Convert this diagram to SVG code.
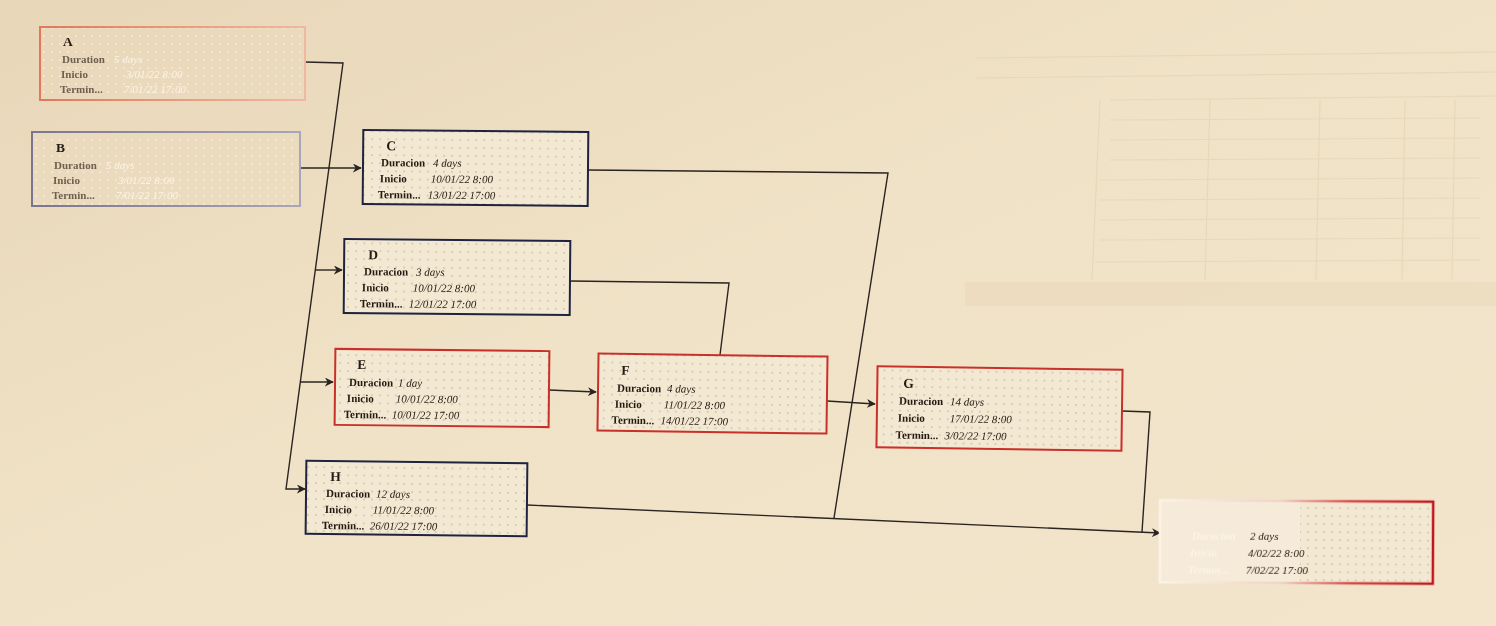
<svg xmlns="http://www.w3.org/2000/svg" width="1496" height="626" viewBox="0 0 1496 626">
<defs>
<linearGradient id="bg" x1="0" y1="0" x2="1" y2="1">
<stop offset="0" stop-color="#e8d6b8"/>
<stop offset="0.45" stop-color="#f0e2c6"/>
<stop offset="1" stop-color="#f2e5cc"/>
</linearGradient>
<linearGradient id="iBorder" x1="0" y1="0" x2="1" y2="0">
<stop offset="0" stop-color="#fbf3e6"/>
<stop offset="0.45" stop-color="#f0d2c8"/>
<stop offset="0.7" stop-color="#d84a4a"/>
<stop offset="1" stop-color="#c2141f"/>
</linearGradient>
<linearGradient id="aBorder" x1="0" y1="0" x2="1" y2="0">
<stop offset="0" stop-color="#e0785a"/>
<stop offset="1" stop-color="#f0b8a0"/>
</linearGradient>
<linearGradient id="bBorder" x1="0" y1="0" x2="1" y2="0">
<stop offset="0" stop-color="#7a7690"/>
<stop offset="1" stop-color="#a8a6b8"/>
</linearGradient>
<pattern id="dots" width="8" height="8" patternUnits="userSpaceOnUse">
<rect width="8" height="8" fill="#f3e8d2"/>
<circle cx="4" cy="4" r="0.7" fill="#a99d8c"/>
</pattern>
<pattern id="dotsLight" width="8" height="8" patternUnits="userSpaceOnUse">
<circle cx="4" cy="4" r="0.8" fill="#fbf6ec"/>
</pattern>
<marker id="arr" viewBox="0 0 10 10" refX="9" refY="5" markerWidth="9" markerHeight="9" markerUnits="userSpaceOnUse" orient="auto">
<path d="M0,0 L10,5 L0,10 L3,5 z" fill="#2a2420"/>
</marker>
</defs>
<style>
.node{fill:url(#dots)}
.dark{fill:none;stroke:#1f2340;stroke-width:2}
.red{fill:none;stroke:#c9302a;stroke-width:2}
.ttl{font-family:"Liberation Serif",serif;font-weight:bold;font-size:13.5px;fill:#241a12}
.lbl{font-family:"Liberation Serif",serif;font-weight:bold;font-size:11px;fill:#241a12}
.val{font-family:"Liberation Serif",serif;font-style:italic;font-size:11px;fill:#241a12}
.fadeL{font-family:"Liberation Serif",serif;font-weight:bold;font-size:11px;fill:#6e5f50}
.fadeV{font-family:"Liberation Serif",serif;font-style:italic;font-size:11px;fill:#fbf4e6}
.wire{fill:none;stroke:#2a2420;stroke-width:1.4}
.ghost{fill:none;stroke:#dccbac;stroke-width:1.2}
</style>
<rect width="1496" height="626" fill="url(#bg)"/>
<g id="showthrough" opacity="0.45">
<line class="ghost" x1="975" y1="58" x2="1496" y2="52"/>
<line class="ghost" x1="975" y1="78" x2="1496" y2="72"/>
<line class="ghost" x1="1110" y1="100" x2="1496" y2="96"/>
<line class="ghost" x1="1110" y1="120" x2="1480" y2="118"/>
<line class="ghost" x1="1110" y1="140" x2="1480" y2="138"/>
<line class="ghost" x1="1110" y1="160" x2="1480" y2="158"/>
<line class="ghost" x1="1100" y1="180" x2="1480" y2="178"/>
<line class="ghost" x1="1100" y1="200" x2="1480" y2="198"/>
<line class="ghost" x1="1100" y1="220" x2="1480" y2="218"/>
<line class="ghost" x1="1100" y1="240" x2="1480" y2="238"/>
<line class="ghost" x1="1095" y1="262" x2="1480" y2="260"/>
<rect x="965" y="282" width="531" height="24" fill="#e2cfae" opacity="0.6"/>
<line class="ghost" x1="1100" y1="100" x2="1092" y2="280"/>
<line class="ghost" x1="1210" y1="100" x2="1205" y2="280"/>
<line class="ghost" x1="1320" y1="100" x2="1316" y2="280"/>
<line class="ghost" x1="1405" y1="100" x2="1402" y2="280"/>
<line class="ghost" x1="1455" y1="100" x2="1452" y2="280"/>
</g>
<g id="connectors">
<path class="wire" d="M305,62 L343,63 L286,489 L305,489" marker-end="url(#arr)"/>
<path class="wire" d="M315,270 L342,270" marker-end="url(#arr)"/>
<path class="wire" d="M300,382 L333,382" marker-end="url(#arr)"/>
<path class="wire" d="M300,168 L361,168" marker-end="url(#arr)"/>
<path class="wire" d="M588,170 L888,173 L834,518"/>
<path class="wire" d="M527,505 L1160,533" marker-end="url(#arr)"/>
<path class="wire" d="M570,281 L729,283 L720,355"/>
<path class="wire" d="M549,390 L596,392" marker-end="url(#arr)"/>
<path class="wire" d="M827,401 L875,404" marker-end="url(#arr)"/>
<path class="wire" d="M1122,411 L1150,412 L1142,532"/>
</g>
<g id="node-A">
<rect x="40" y="27" width="265" height="73" fill="url(#dotsLight)" stroke="url(#aBorder)" stroke-width="2"/>
<text class="ttl" x="63" y="46">A</text>
<text class="fadeL" x="62" y="63">Duration</text><text class="fadeV" x="114" y="63">5 days</text>
<text class="fadeL" x="61" y="78">Inicio</text><text class="fadeV" x="126" y="78">3/01/22 8:00</text>
<text class="fadeL" x="60" y="93">Termin...</text><text class="fadeV" x="124" y="93">7/01/22 17:00</text>
</g>
<g id="node-B">
<rect x="32" y="132" width="268" height="74" fill="url(#dotsLight)" stroke="url(#bBorder)" stroke-width="2"/>
<text class="ttl" x="56" y="152">B</text>
<text class="fadeL" x="54" y="169">Duration</text><text class="fadeV" x="106" y="169">5 days</text>
<text class="fadeL" x="53" y="184">Inicio</text><text class="fadeV" x="118" y="184">3/01/22 8:00</text>
<text class="fadeL" x="52" y="199">Termin...</text><text class="fadeV" x="116" y="199">7/01/22 17:00</text>
</g>
<g id="node-C" transform="rotate(0.5 475 168)">
<rect class="node" x="363" y="131" width="225" height="74"/>
<rect class="dark" x="363" y="131" width="225" height="74"/>
<text class="ttl" x="386" y="151">C</text>
<text class="lbl" x="381" y="167">Duracion</text><text class="val" x="433" y="167">4 days</text>
<text class="lbl" x="380" y="183">Inicio</text><text class="val" x="431" y="183">10/01/22 8:00</text>
<text class="lbl" x="378" y="199">Termin...</text><text class="val" x="428" y="199">13/01/22 17:00</text>
</g>
<g id="node-D" transform="rotate(0.5 457 277)">
<rect class="node" x="344" y="240" width="226" height="74"/>
<rect class="dark" x="344" y="240" width="226" height="74"/>
<text class="ttl" x="368" y="260">D</text>
<text class="lbl" x="364" y="276">Duracion</text><text class="val" x="416" y="276">3 days</text>
<text class="lbl" x="362" y="292">Inicio</text><text class="val" x="413" y="292">10/01/22 8:00</text>
<text class="lbl" x="360" y="308">Termin...</text><text class="val" x="409" y="308">12/01/22 17:00</text>
</g>
<g id="node-E" transform="rotate(0.6 442 388)">
<rect class="node" x="335" y="350" width="214" height="76"/>
<rect class="red" x="335" y="350" width="214" height="76"/>
<text class="ttl" x="357" y="370">E</text>
<text class="lbl" x="349" y="387">Duracion</text><text class="val" x="398" y="387">1 day</text>
<text class="lbl" x="347" y="403">Inicio</text><text class="val" x="396" y="403">10/01/22 8:00</text>
<text class="lbl" x="344" y="419">Termin...</text><text class="val" x="392" y="419">10/01/22 17:00</text>
</g>
<g id="node-F" transform="rotate(0.8 712 393)">
<rect class="node" x="598" y="355" width="229" height="77"/>
<rect class="red" x="598" y="355" width="229" height="77"/>
<text class="ttl" x="621" y="376">F</text>
<text class="lbl" x="617" y="393">Duracion</text><text class="val" x="667" y="393">4 days</text>
<text class="lbl" x="615" y="409">Inicio</text><text class="val" x="664" y="409">11/01/22 8:00</text>
<text class="lbl" x="612" y="425">Termin...</text><text class="val" x="661" y="425">14/01/22 17:00</text>
</g>
<g id="node-G" transform="rotate(0.8 1000 408)">
<rect class="node" x="877" y="368" width="245" height="81"/>
<rect class="red" x="877" y="368" width="245" height="81" stroke="#cf4a3c"/>
<text class="ttl" x="903" y="389">G</text>
<text class="lbl" x="899" y="406">Duracion</text><text class="val" x="950" y="406">14 days</text>
<text class="lbl" x="898" y="423">Inicio</text><text class="val" x="950" y="423">17/01/22 8:00</text>
<text class="lbl" x="896" y="440">Termin...</text><text class="val" x="945" y="440">3/02/22 17:00</text>
</g>
<g id="node-H" transform="rotate(0.6 416 498)">
<rect class="node" x="306" y="462" width="221" height="73"/>
<rect class="dark" x="306" y="462" width="221" height="73"/>
<text class="ttl" x="330" y="482">H</text>
<text class="lbl" x="326" y="498">Duracion</text><text class="val" x="376" y="498">12 days</text>
<text class="lbl" x="325" y="514">Inicio</text><text class="val" x="373" y="514">11/01/22 8:00</text>
<text class="lbl" x="322" y="530">Termin...</text><text class="val" x="370" y="530">26/01/22 17:00</text>
</g>
<g id="node-I" transform="rotate(0.3 1296 542)">
<rect x="1160" y="501" width="273" height="82" fill="url(#dots)"/>
<rect x="1160" y="501" width="140" height="82" fill="#f6ecda" opacity="0.7"/>
<rect x="1160" y="501" width="140" height="82" fill="url(#dotsLight)"/>
<rect x="1160" y="501" width="273" height="82" fill="none" stroke="url(#iBorder)" stroke-width="2.5"/>
<text class="fadeV" x="1192" y="540" font-weight="bold">Duracion</text><text class="val" x="1250" y="540">2 days</text>
<text class="fadeV" x="1190" y="557" font-weight="bold">Inicio</text><text class="val" x="1248" y="557">4/02/22 8:00</text>
<text class="fadeV" x="1188" y="574" font-weight="bold">Termin...</text><text class="val" x="1246" y="574">7/02/22 17:00</text>
</g>
</svg>
